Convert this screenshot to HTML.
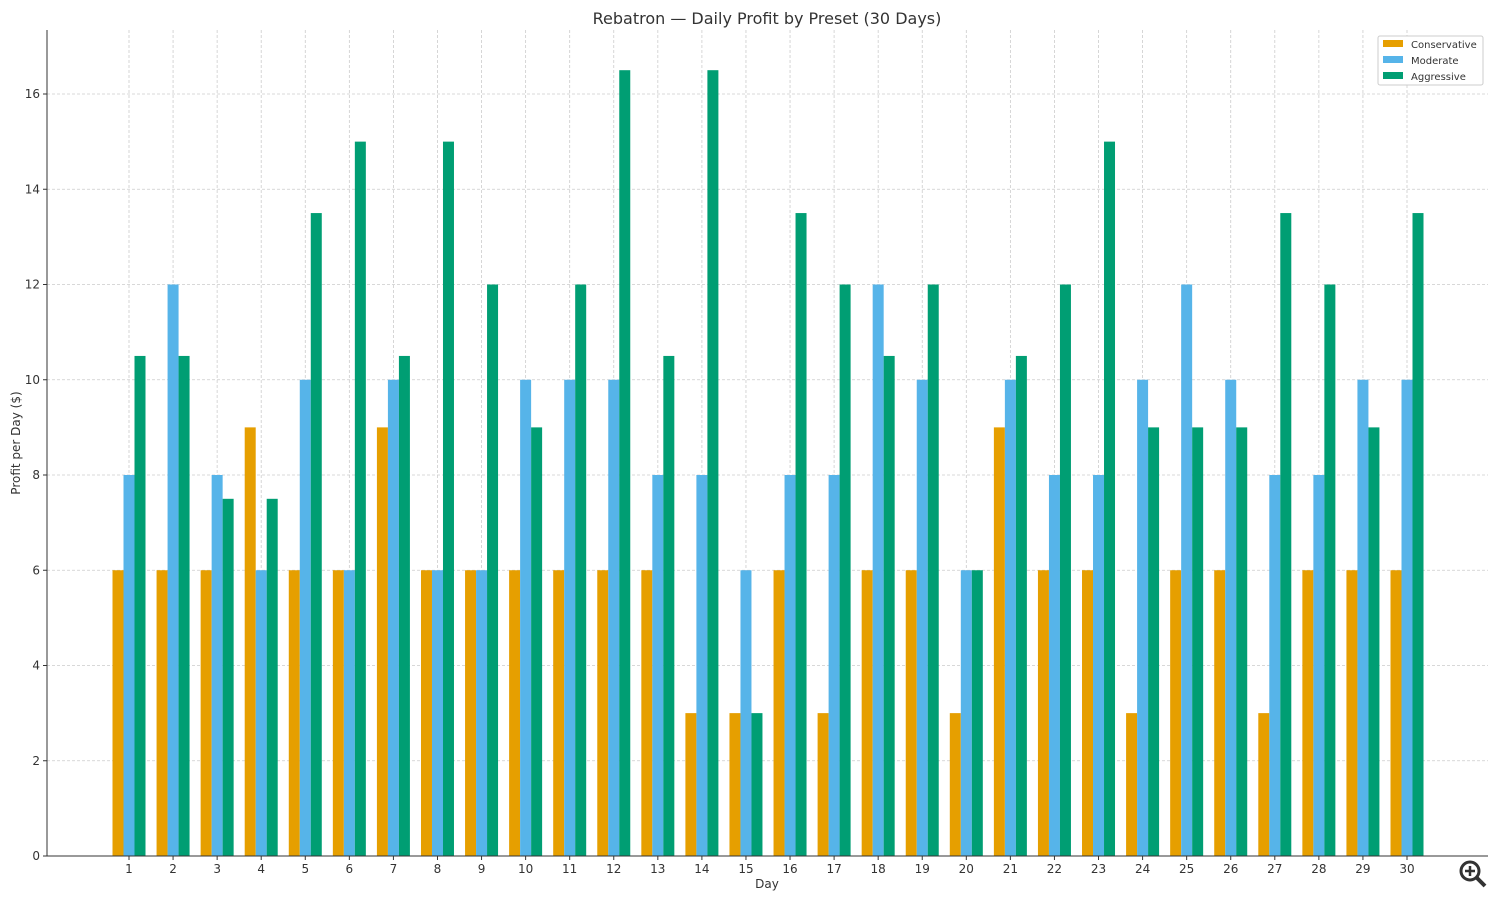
<!DOCTYPE html>
<html><head><meta charset="utf-8"><style>
body{margin:0;background:#fff;font-family:"DejaVu Sans","Liberation Sans",sans-serif}
svg{display:block}
</style></head><body>
<svg id="chart" width="1500" height="900" xmlns="http://www.w3.org/2000/svg" font-family="DejaVu Sans, Liberation Sans, sans-serif">
<text x="767" y="24" text-anchor="middle" font-size="16" fill="#333">Rebatron — Daily Profit by Preset (30 Days)</text>
<g id="grid"></g>
<g id="bars"></g>
<g id="axes"></g>
<text x="767" y="888" text-anchor="middle" font-size="12" fill="#333">Day</text>
<text transform="translate(20,443) rotate(-90)" text-anchor="middle" font-size="12" fill="#333">Profit per Day ($)</text>
<g>
<rect x="1378" y="36" width="105" height="49" fill="#fff" stroke="#ccc" rx="2"/>
<g><rect x="1383" y="40" width="20" height="7" fill="#E69F00"/><text x="1411" y="48" font-size="10" fill="#333">Conservative</text></g>
<g><rect x="1383" y="56" width="20" height="7" fill="#56B4E9"/><text x="1411" y="64" font-size="10" fill="#333">Moderate</text></g>
<g><rect x="1383" y="72" width="20" height="7" fill="#009E73"/><text x="1411" y="80" font-size="10" fill="#333">Aggressive</text></g>
</g>
<g><circle cx="1470" cy="871" r="9" fill="none" stroke="#333" stroke-width="3"/><line x1="1476" y1="877" x2="1485" y2="886" stroke="#333" stroke-width="4"/><line x1="1465" y1="871" x2="1475" y2="871" stroke="#333" stroke-width="2.5"/><line x1="1470" y1="866" x2="1470" y2="876" stroke="#333" stroke-width="2.5"/></g>
</svg>
<script>
const days=[1,2,3,4,5,6,7,8,9,10,11,12,13,14,15,16,17,18,19,20,21,22,23,24,25,26,27,28,29,30];
const conservative=[6,6,6,9,6,6,9,6,6,6,6,6,6,3,3,6,3,6,6,3,9,6,6,3,6,6,3,6,6,6];
const moderate=[8,12,8,6,10,6,10,6,6,10,10,10,8,8,6,8,8,12,10,6,10,8,8,10,12,10,8,8,10,10];
const aggressive=[10.5,10.5,7.5,7.5,13.5,15,10.5,15,12,9,12,16.5,10.5,16.5,3,13.5,12,10.5,12,6,10.5,12,15,9,9,9,13.5,12,9,13.5];
const yTicks=[0,2,4,6,8,10,12,14,16];
const NS='http://www.w3.org/2000/svg';
const L=47,R=1488,T=30,B=856;
const x=d=>129+(d-1)*44.069;
const y=v=>B-v*47.625;
function mk(tag,attrs,parent){const e=document.createElementNS(NS,tag);for(const k in attrs)e.setAttribute(k,attrs[k]);parent.appendChild(e);return e;}
const grid=document.getElementById('grid'),bars=document.getElementById('bars'),axes=document.getElementById('axes');
yTicks.forEach(t=>{
  const g=mk('line',{x1:L,x2:R,y1:y(t),y2:y(t),stroke:'#ccc','stroke-width':0.8,'stroke-dasharray':'3,2'},grid);
  
  mk('line',{x1:L-4,x2:L,y1:y(t),y2:y(t),stroke:'#333'},axes);
  const tx=mk('text',{x:L-7,y:y(t)+4,'text-anchor':'end','font-size':12,fill:'#333'},axes);tx.textContent=t;
  
});
days.forEach(d=>{
  const g=mk('line',{x1:x(d),x2:x(d),y1:T,y2:B,stroke:'#ccc','stroke-width':0.8,'stroke-dasharray':'3,2'},grid);
  
  mk('line',{x1:x(d),x2:x(d),y1:B,y2:B+4,stroke:'#333'},axes);
  const tx=mk('text',{x:x(d),y:B+17,'text-anchor':'middle','font-size':12,fill:'#333'},axes);tx.textContent=d;
  
});
const series=[[conservative,'#E69F00','conservative'],[moderate,'#56B4E9','moderate'],[aggressive,'#009E73','aggressive']];
const bw=11;
series.forEach((s,si)=>{
  s[0].forEach((v,i)=>{
    const cx=x(days[i])+(si-1)*bw;
    const r=mk('rect',{x:cx-bw/2,y:y(v),width:bw,height:B-y(v),fill:s[1]},bars);
    
    
  });
});
mk('line',{x1:L,x2:L,y1:T,y2:B,stroke:'#333'},axes);
mk('line',{x1:L,x2:R,y1:B,y2:B,stroke:'#333'},axes);
</script>
</body></html>
